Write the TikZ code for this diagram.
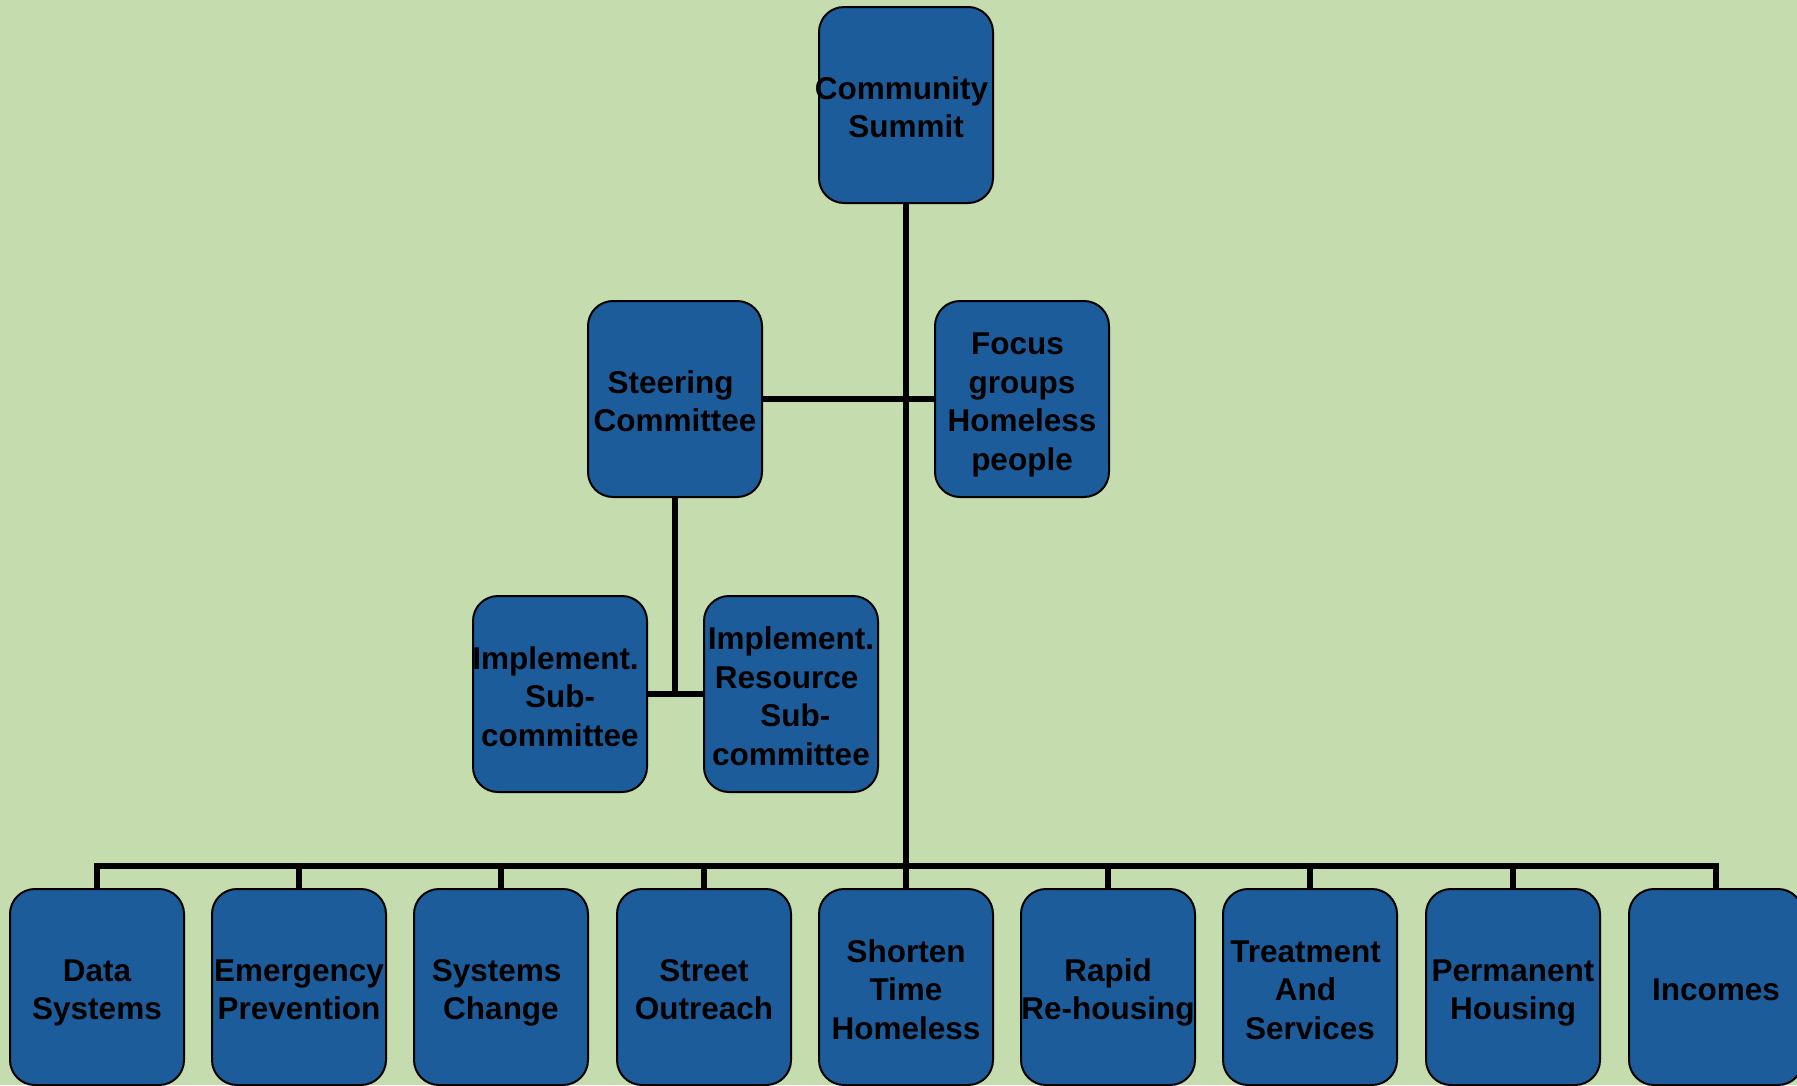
\documentclass[tikz,border=0pt]{standalone}
\usepackage{fontspec}
\setmainfont{Liberation Sans}
\definecolor{bg}{RGB}{197,220,174}
\definecolor{boxblue}{RGB}{29,92,154}
\tikzset{
  orgbox/.style={draw=black, line width=2pt, fill=boxblue, rounded corners=25pt,
    minimum width=174pt, minimum height=196pt, inner sep=0pt, align=center,
    font=\fontsize{31.5}{38.5}\selectfont\bfseries, text=black},
  link/.style={draw=black, line width=5.5pt}
}
% shift a line by half a word space without changing its width
\newcommand{\lsh}[1]{\kern-4.4pt#1\kern4.4pt}
\newcommand{\rsh}[1]{\kern4.4pt#1\kern-4.4pt}
% struts: first line and following lines, so every box centres alike
\newcommand{\fs}{\vrule width 0pt height 34pt depth 7pt}
\newcommand{\ls}{\vrule width 0pt height 31pt depth 7pt}
\begin{document}
\begin{tikzpicture}[x=1pt, y=-1pt]
\clip (0,0) rectangle (1797,1085);
\fill[bg] (0,0) rectangle (1797,1085);

\coordinate (bus L) at (97,866);
\coordinate (bus R) at (1716,866);
\coordinate (bus M) at (906,866);
\draw[link, line cap=rect] (bus L) -- (bus R);

% upper levels
\node[orgbox] (cs) at (906,105) {\fs\lsh{Community}\\\ls Summit};
\node[orgbox] (sc) at (675,399) {\fs\lsh{Steering}\\\ls Committee};
\node[orgbox] (fg) at (1022,399) {\fs\lsh{Focus}\\\ls groups\\\ls Homeless\\\ls people};
\node[orgbox] (is) at (560,694) {\fs\lsh{Implement.}\\\ls Sub-\\\ls committee};
\node[orgbox] (ir) at (791,694) {\fs Implement.\\\ls\lsh{Resource}\\\ls\rsh{Sub-}\\\ls committee};

% bottom row
\node[orgbox] (b1) at (97,987) {\fs Data\\\ls Systems};
\node[orgbox] (b2) at (299,987) {\fs Emergency\\\ls Prevention};
\node[orgbox] (b3) at (501,987) {\fs\lsh{Systems}\\\ls Change};
\node[orgbox] (b4) at (704,987) {\fs Street\\\ls Outreach};
\node[orgbox] (b5) at (906,987) {\fs Shorten\\\ls Time\\\ls Homeless};
\node[orgbox] (b6) at (1108,987) {\fs Rapid\\\ls Re-housing};
\node[orgbox] (b7) at (1310,987) {\fs\lsh{Treatment}\\\ls\lsh{And}\\\ls Services};
\node[orgbox] (b8) at (1513,987) {\fs Permanent\\\ls Housing};
\node[orgbox] (b9) at (1716,987) {\fs Incomes};

% trunk and branches
\draw[link] (cs.south) -- (bus M);
\draw[link] (sc.east) -- (fg.west);
\draw[link] (sc.south) -- (sc.south |- is.east);
\draw[link] (is.east) -- (ir.west);
\foreach \b in {b1,b2,b3,b4,b5,b6,b7,b8,b9}
  \draw[link] (\b.north) -- (\b.north |- bus M);
\end{tikzpicture}
\end{document}
